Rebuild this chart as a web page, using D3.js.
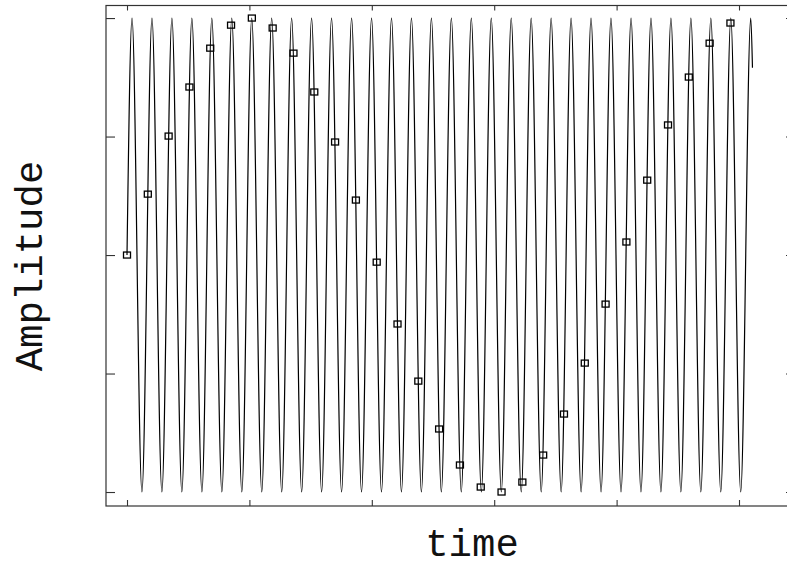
<!DOCTYPE html>
<html>
<head>
<meta charset="utf-8">
<script src="https://cdn.jsdelivr.net/npm/d3@7"></script>
<style>
  body { margin: 0; background: #fff; }
  svg { display: block; }
</style>
</head>
<body>
<div id="chart-area"></div>
<script>
// extrema of the fast signal (time in tick units)
var waveTimes = [0, 0.041, 0.122, 0.204, 0.285, 0.367, 0.448, 0.530, 0.612, 0.693, 0.775,
    0.856, 0.938, 1.019, 1.101, 1.182, 1.264, 1.345, 1.427, 1.508, 1.590,
    1.671, 1.753, 1.835, 1.916, 1.998, 2.079, 2.161, 2.242, 2.324, 2.405,
    2.487, 2.568, 2.650, 2.731, 2.813, 2.895, 2.976, 3.058, 3.139, 3.221,
    3.302, 3.384, 3.465, 3.547, 3.628, 3.710, 3.791, 3.873, 3.954, 4.036,
    4.118, 4.199, 4.281, 4.362, 4.444, 4.525, 4.607, 4.688, 4.770, 4.851,
    4.933, 5.014, 5.096, 5.110];
var waveValues = [0, 1, -1, 1, -1, 1, -1, 1, -1, 1, -1,
    1, -1, 1, -1, 1, -1, 1, -1, 1, -1,
    1, -1, 1, -1, 1, -1, 1, -1, 1, -1,
    1, -1, 1, -1, 1, -1, 1, -1, 1, -1,
    1, -1, 1, -1, 1, -1, 1, -1, 1, -1,
    1, -1, 1, -1, 1, -1, 1, -1, 1, -1,
    1, -1, 1, 0.79];

// sampled points (squares)
var sampleTimes = [0, 0.17, 0.34, 0.51, 0.68, 0.85, 1.02, 1.19, 1.36, 1.53,
    1.70, 1.87, 2.04, 2.21, 2.38, 2.55, 2.72, 2.89, 3.06, 3.23,
    3.40, 3.57, 3.74, 3.91, 4.08, 4.25, 4.42, 4.59, 4.76, 4.93];
var sampleValues = [0, 0.257, 0.502, 0.709, 0.873, 0.970, 1.0, 0.958, 0.852, 0.688,
    0.477, 0.232, -0.030, -0.291, -0.532, -0.734, -0.886, -0.979, -1.0, -0.958,
    -0.844, -0.671, -0.456, -0.207, 0.055, 0.316, 0.549, 0.751, 0.894, 0.979];

var xTicks = [0, 1, 2, 3, 4, 5];
var yTicks = [-1, -0.5, 0, 0.5, 1];

var W = 787, H = 567;
var plot = {left: 106, right: 795, top: 5.5, bottom: 506};

var svg = d3.select("#chart-area").append("svg")
    .attr("width", W)
    .attr("height", H);

var xScale = d3.scaleLinear()
    .domain([-0.1716, 5.4575])
    .range([plot.left, plot.right]);
var yScale = d3.scaleLinear()
    .domain([-1.059, 1.053])
    .range([plot.bottom, plot.top]);

// axes, ticks pointing inward, no labels
svg.append("g")
    .attr("class", "axis")
    .attr("transform", "translate(0," + plot.bottom + ")")
    .call(d3.axisBottom(xScale).tickValues(xTicks).tickSizeInner(-6).tickSizeOuter(0).tickFormat(""));
svg.append("g")
    .attr("class", "axis")
    .attr("transform", "translate(0," + plot.top + ")")
    .call(d3.axisTop(xScale).tickValues(xTicks).tickSizeInner(-5).tickSizeOuter(0).tickFormat(""));
svg.append("g")
    .attr("class", "axis")
    .attr("transform", "translate(" + plot.left + ",0)")
    .call(d3.axisLeft(yScale).tickValues(yTicks).tickSizeInner(-9).tickSizeOuter(0).tickFormat(""));
svg.append("g")
    .attr("class", "axis")
    .attr("transform", "translate(" + plot.right + ",0)")
    .call(d3.axisRight(yScale).tickValues(yTicks).tickSizeInner(-9).tickSizeOuter(0).tickFormat(""));
svg.selectAll(".axis .domain").remove();
svg.selectAll(".axis line").attr("stroke", "#333").attr("stroke-width", 1.1);

svg.append("rect")
    .attr("x", plot.left)
    .attr("y", plot.top)
    .attr("width", plot.right - plot.left)
    .attr("height", plot.bottom - plot.top)
    .attr("fill", "none")
    .attr("stroke", "#333")
    .attr("stroke-width", 1.2);

// the fast signal
var wave = d3.line()
    .x(function (d, i) { return xScale(waveTimes[i]); })
    .y(function (d) { return yScale(d); })
    .curve(d3.curveMonotoneX);
svg.append("path")
    .datum(waveValues)
    .attr("d", wave)
    .attr("fill", "none")
    .attr("stroke", "#000")
    .attr("stroke-width", 1.2);

// the samples
svg.selectAll(".sample")
    .data(sampleValues)
    .enter()
    .append("rect")
    .attr("class", "sample")
    .attr("x", function (d, i) { return xScale(sampleTimes[i]) - 3.5; })
    .attr("y", function (d) { return yScale(d) - 3; })
    .attr("width", 7)
    .attr("height", 6)
    .attr("fill", "none")
    .attr("stroke", "#000")
    .attr("stroke-width", 1.3);

// axis titles
svg.append("text")
    .attr("x", 472)
    .attr("y", 556)
    .attr("text-anchor", "middle")
    .style("font-family", "'Liberation Mono', monospace")
    .style("font-size", "39px")
    .style("fill", "#111")
    .text("time");
svg.append("text")
    .attr("transform", "translate(42,266) rotate(-90)")
    .attr("text-anchor", "middle")
    .style("font-family", "'Liberation Mono', monospace")
    .style("font-size", "39px")
    .style("fill", "#111")
    .text("Amplitude");
</script>
</body>
</html>
